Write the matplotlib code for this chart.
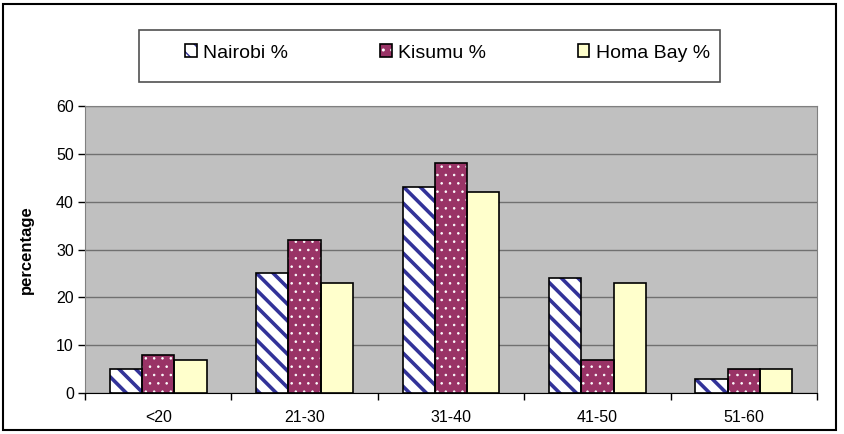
import matplotlib
matplotlib.use("Agg")
import matplotlib.pyplot as plt
import numpy as np
from matplotlib.patches import Patch, Rectangle
from matplotlib.legend_handler import HandlerTuple

categories = ["<20", "21-30", "31-40", "41-50", "51-60"]
nairobi = [5, 25, 43, 24, 3]
kisumu = [8, 32, 48, 7, 5]
homa_bay = [7, 23, 42, 23, 5]
series_names = ["Nairobi %", "Kisumu %", "Homa Bay %"]
y_ticks = [0, 10, 20, 30, 40, 50, 60]

plt.rcParams['font.family'] = ['Liberation Sans', 'DejaVu Sans']

W, H = 844, 434
fig = plt.figure(figsize=(W / 100, H / 100), dpi=100)
ax = fig.add_axes([85 / W, (H - 393) / H, 732 / W, (393 - 106) / H])
ax.set_facecolor("#C0C0C0")

x = np.arange(len(categories))
bw = 0.22
styles = [
    dict(fc="white", hatch_col="#333399", hatch="\\\\", hlw=2.6),
    dict(fc="#993366", hatch_col="white", hatch="..", hlw=0.6),
    dict(fc="#FFFFCC", hatch_col=None, hatch=None, hlw=1.0),
]
handles = []
for i, (vals, st) in enumerate(zip([nairobi, kisumu, homa_bay], styles)):
    pos = x + (i - 1) * bw
    with plt.rc_context({'hatch.linewidth': st["hlw"]}):
        if st["hatch"]:
            ax.bar(pos, vals, bw, facecolor=st["fc"], edgecolor=st["hatch_col"],
                   hatch=st["hatch"], linewidth=0, zorder=3)
            h1 = Patch(facecolor=st["fc"], edgecolor=st["hatch_col"], hatch=st["hatch"], linewidth=0)
        else:
            ax.bar(pos, vals, bw, facecolor=st["fc"], linewidth=0, zorder=3)
            h1 = Patch(facecolor=st["fc"], linewidth=0)
    ax.bar(pos, vals, bw, fill=False, edgecolor="black", linewidth=1.2, zorder=4)
    h2 = Patch(fill=False, edgecolor="black", linewidth=1.2)
    handles.append((h1, h2))

ax.set_xlim(-0.5, len(categories) - 0.5)
ax.set_ylim(0, 60)
ax.set_yticks(y_ticks)
ax.set_xticks(x)
ax.set_xticklabels(categories)
ax.set_xticks(np.arange(len(categories) + 1) - 0.5, minor=True)
ax.tick_params(axis='x', which='major', length=0, labelsize=11.5, pad=12)
ax.tick_params(axis='x', which='minor', length=5, width=1, direction='out')
ax.tick_params(axis='y', length=5, width=1, labelsize=11.5, pad=3)
ax.yaxis.grid(True, color="#707070", linewidth=1, zorder=0)
ax.set_axisbelow(True)
for s in ['top', 'right', 'left']:
    ax.spines[s].set_color("#808080")
ax.spines['bottom'].set_color("black")
ax.set_ylabel("percentage", fontsize=12, fontweight='bold', labelpad=16)

leg = fig.legend(handles, series_names, handler_map={tuple: HandlerTuple(ndivide=1, pad=0)},
                 loc='center left', ncol=3,
                 bbox_to_anchor=(185 / W, (H - 53) / H),
                 fontsize=14, handlelength=0.6, handleheight=0.6, handletextpad=0.35,
                 columnspacing=4.7, frameon=False, borderpad=0, borderaxespad=0)

fig.patches.append(Rectangle((139 / W, (H - 82) / H), 581 / W, 52 / H, transform=fig.transFigure,
                             fill=False, edgecolor="#505050", linewidth=1.2))
fig.patches.append(Rectangle((3 / W, 4 / H), 833 / W, 426 / H, transform=fig.transFigure,
                             fill=False, edgecolor="black", linewidth=1.5))

fig.savefig("out.png", dpi=100)
